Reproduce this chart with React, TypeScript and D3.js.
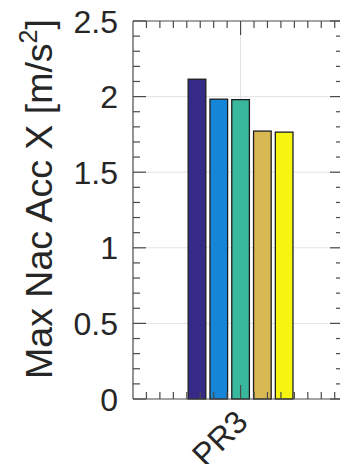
import { useEffect, useRef } from 'react'
import * as d3 from 'd3'

const category = 'PR3'
const series = ['S1', 'S2', 'S3', 'S4', 'S5']
const values = [2.115, 1.983, 1.98, 1.772, 1.765]
const colors = ['#352a87', '#1585d8', '#38b89c', '#d8b852', '#f5f511']
const yTicks = [0, 0.5, 1, 1.5, 2, 2.5]
const yLabel = 'Max Nac Acc X [m/s'

export default function App() {
  const ref = useRef<SVGSVGElement>(null)

  useEffect(() => {
    const svg = d3.select(ref.current)
    svg.selectAll('*').remove()

    const left = 133
    const right = 346
    const top = 21
    const bottom = 399
    const axisColor = '#4a4a4a'
    const font = '"Liberation Sans", Arial, sans-serif'

    const x = d3.scaleLinear().domain([0.5, 1.49]).range([left, right])
    const y = d3.scaleLinear().domain([0, 2.5]).range([bottom, top])

    // grid
    svg.append('g')
      .selectAll('line')
      .data(yTicks.slice(1, -1))
      .enter().append('line')
      .attr('x1', left).attr('x2', right)
      .attr('y1', d => y(d)).attr('y2', d => y(d))
      .attr('stroke', '#e3e3e3')
    svg.append('line')
      .attr('x1', x(1)).attr('x2', x(1))
      .attr('y1', top).attr('y2', bottom)
      .attr('stroke', '#e3e3e3')

    // bars
    const groupW = 107
    const inner = d3.scaleBand<string>()
      .domain(series)
      .range([x(1) - groupW / 2, x(1) + groupW / 2])
      .paddingInner(0.19)
      .paddingOuter(0.05)

    svg.append('g')
      .selectAll('rect')
      .data(values)
      .enter().append('rect')
      .attr('x', (_, i) => inner(series[i]) as number)
      .attr('width', inner.bandwidth())
      .attr('y', d => y(d))
      .attr('height', d => bottom - y(d))
      .attr('fill', (_, i) => colors[i])
      .attr('stroke', '#1e1e1e')
      .attr('stroke-width', 1.3)

    // frame
    const frame = svg.append('g').attr('stroke', axisColor).attr('stroke-width', 1.2)
    frame.append('line').attr('x1', left).attr('x2', left).attr('y1', top).attr('y2', bottom)
    frame.append('line').attr('x1', right).attr('x2', right).attr('y1', top).attr('y2', bottom)
    frame.append('line').attr('x1', left).attr('x2', right).attr('y1', top).attr('y2', top)
    frame.append('line').attr('x1', left).attr('x2', right).attr('y1', bottom).attr('y2', bottom)

    // y ticks
    const minorY = d3.range(0, 26).map(i => i / 10)
    minorY.forEach(v => {
      const major = Math.abs(v * 2 - Math.round(v * 2)) < 1e-6
      const len = major ? 16 : 10
      frame.append('line').attr('x1', left).attr('x2', left + (major ? 13 : 7)).attr('y1', y(v)).attr('y2', y(v))
      frame.append('line').attr('x1', right).attr('x2', right - len).attr('y1', y(v)).attr('y2', y(v))
    })

    // x ticks
    const minorX = d3.range(0, 16).map(i => 0.5 + i * 0.0625).filter(v => v > 0.5 && v < 1.49)
    minorX.forEach(v => {
      const major = Math.abs(v - 1) < 1e-6
      const len = major ? 14 : 7
      frame.append('line').attr('x1', x(v)).attr('x2', x(v)).attr('y1', top).attr('y2', top + len)
      frame.append('line').attr('x1', x(v)).attr('x2', x(v)).attr('y1', bottom).attr('y2', bottom - len)
    })

    // y tick labels
    svg.append('g')
      .selectAll('text')
      .data(yTicks)
      .enter().append('text')
      .attr('x', 118)
      .attr('y', d => y(d))
      .attr('dy', '0.36em')
      .attr('text-anchor', 'end')
      .attr('font-family', font)
      .attr('font-size', 32)
      .attr('fill', '#262626')
      .text(d => String(d))

    // x tick label
    svg.append('text')
      .attr('transform', `translate(${x(1) + 9},${bottom + 25}) rotate(-45)`)
      .attr('text-anchor', 'end')
      .attr('font-family', font)
      .attr('font-size', 32)
      .attr('fill', '#262626')
      .text(category)

    // y label
    const yl = svg.append('text')
      .attr('transform', `translate(52,199) rotate(-90)`)
      .attr('text-anchor', 'middle')
      .attr('font-family', font)
      .attr('font-size', 37.5)
      .attr('fill', '#262626')
    yl.append('tspan').text(yLabel)
    yl.append('tspan').attr('font-size', 25).attr('dy', -15).text('2')
    yl.append('tspan').attr('dy', 15).text(']')
  }, [])

  return (
    <svg
      ref={ref}
      width={340}
      height={464}
      style={{ position: 'absolute', left: 0, top: 0, background: '#fff' }}
    />
  )
}
